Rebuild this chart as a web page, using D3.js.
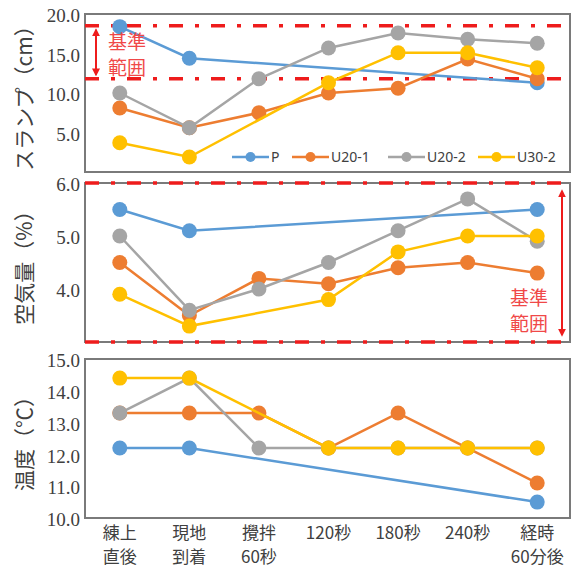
<!DOCTYPE html>
<html>
<head>
<meta charset="utf-8">
<script src="https://cdn.jsdelivr.net/npm/d3@7"></script>
<style>
  body { margin: 0; background: #fff; }
  svg { display: block; }
  .tick text { font-family: "Liberation Serif", serif; fill: #404040; }
  .jp { font-family: "Noto Sans CJK JP", sans-serif; }
</style>
</head>
<body>
<div id="chart"></div>
<script>
const categories = [['練上', '直後'], ['現地', '到着'], ['攪拌', '60秒'], ['120秒'], ['180秒'], ['240秒'], ['経時', '60分後']];
const seriesNames = ['P', 'U20-1', 'U20-2', 'U30-2'];
const seriesColors = ['#5b9bd5', '#ed7d31', '#a5a5a5', '#ffc000'];

const slumpP    = [18.4, 14.4, null, null, null, null, 11.3];
const slumpU201 = [8.1, 5.6, 7.5, 10.0, 10.6, 14.3, 11.8];
const slumpU202 = [10.0, 5.6, 11.8, 15.7, 17.6, 16.8, 16.3];
const slumpU302 = [3.7, 1.9, null, 11.3, 15.1, 15.1, 13.2];
const slumpTicks = [5, 10, 15, 20];
const slumpRange = [11.8, 18.5];

const airP    = [5.5, 5.1, null, null, null, null, 5.5];
const airU201 = [4.5, 3.5, 4.2, 4.1, 4.4, 4.5, 4.3];
const airU202 = [5.0, 3.6, 4.0, 4.5, 5.1, 5.7, 4.9];
const airU302 = [3.9, 3.3, null, 3.8, 4.7, 5.0, 5.0];
const airTicks = [4, 5, 6];
const airRange = [3, 6];

const tempP    = [12.2, 12.2, null, null, null, null, 10.5];
const tempU201 = [13.3, 13.3, 13.3, 12.2, 13.3, 12.2, 11.1];
const tempU202 = [13.3, 14.4, 12.2, 12.2, 12.2, 12.2, 12.2];
const tempU302 = [14.4, 14.4, null, 12.2, 12.2, 12.2, 12.2];
const tempTicks = [10, 11, 12, 13, 14, 15];

const W = 572, H = 567;
const left = 85, right = 570;

const svg = d3.select('#chart').append('svg')
    .attr('width', W)
    .attr('height', H);

const x = d3.scalePoint()
    .domain(d3.range(categories.length))
    .range([left, 572])
    .padding(0.5);

const panels = [
    { title: 'スランプ（cm）', top: 14, bottom: 172, domain: [0, 20], ticks: slumpTicks,
      data: [slumpP, slumpU201, slumpU202, slumpU302], band: slumpRange },
    { title: '空気量（%）', top: 183, bottom: 342, domain: [3, 6], ticks: airTicks,
      data: [airP, airU201, airU202, airU302], band: airRange },
    { title: '温度（℃）', top: 359, bottom: 518, domain: [10, 15], ticks: tempTicks,
      data: [tempP, tempU201, tempU202, tempU302] }
];

const red = '#ee1c1c';

panels.forEach((p, pi) => {
    const y = d3.scaleLinear().domain(p.domain).range([p.bottom, p.top]);
    const g = svg.append('g');

    // Frame
    g.append('rect')
        .attr('x', left).attr('y', p.top)
        .attr('width', right - left).attr('height', p.bottom - p.top)
        .attr('fill', 'none').attr('stroke', '#7a7a7a').attr('stroke-width', 2);

    // Y axis
    const axis = g.append('g')
        .attr('transform', `translate(${left},0)`)
        .call(d3.axisLeft(y).tickValues(p.ticks).tickSize(0).tickPadding(5).tickFormat(d3.format('.1f')));
    axis.select('.domain').remove();
    axis.selectAll('text').style('font-size', '19px').attr('dy', '0.4em');

    // Y title
    g.append('text')
        .attr('class', 'jp')
        .attr('transform', `translate(25,${(p.top + p.bottom) / 2}) rotate(-90)`)
        .attr('text-anchor', 'middle')
        .attr('dy', '0.35em')
        .style('font-size', '21px')
        .attr('fill', '#404040')
        .text(p.title);

    // Reference band (dash-dot lines)
    if (p.band) {
        p.band.forEach(v => {
            g.append('line')
                .attr('x1', left).attr('x2', 572)
                .attr('y1', y(v)).attr('y2', y(v))
                .attr('stroke', red).attr('stroke-width', 3.5)
                .attr('stroke-dasharray', '14,12,4,12');
        });
    }

    // Series lines and markers
    p.data.forEach((vals, si) => {
        const pts = vals.map((v, i) => ({ i, v })).filter(d => d.v !== null);
        const line = d3.line().x(d => x(d.i)).y(d => y(d.v));
        g.append('path')
            .datum(pts)
            .attr('d', line)
            .attr('fill', 'none')
            .attr('stroke', seriesColors[si])
            .attr('stroke-width', 2.5);
        g.selectAll(null)
            .data(pts)
            .enter().append('circle')
            .attr('cx', d => x(d.i))
            .attr('cy', d => y(d.v))
            .attr('r', 7.5)
            .attr('fill', seriesColors[si]);
    });

    p.y = y;
});

// Reference range annotation, slump panel
const ys = panels[0].y;
const ya = panels[1].y;
svg.append('defs').append('marker')
    .attr('id', 'ah')
    .attr('viewBox', '0 0 10 10')
    .attr('refX', 8).attr('refY', 5)
    .attr('markerWidth', 4).attr('markerHeight', 4)
    .attr('orient', 'auto-start-reverse')
    .append('path')
    .attr('d', 'M0,0L10,5L0,10Z')
    .attr('fill', red);

function rangeArrow(xPos, y1, y2) {
    svg.append('line')
        .attr('x1', xPos).attr('x2', xPos)
        .attr('y1', y1).attr('y2', y2)
        .attr('stroke', red).attr('stroke-width', 2)
        .attr('marker-start', 'url(#ah)')
        .attr('marker-end', 'url(#ah)');
}
function rangeLabel(xPos, yPos) {
    ['基準', '範囲'].forEach((t, i) => {
        svg.append('text')
            .attr('class', 'jp')
            .attr('x', xPos).attr('y', yPos + i * 26)
            .attr('dy', '0.35em')
            .style('font-size', '19px')
            .attr('fill', '#f04848')
            .text(t);
    });
}
rangeArrow(96, ys(18.0), ys(12.3));
rangeLabel(108, 42);
rangeArrow(562, ya(5.85), ya(3.13));
rangeLabel(510, 298);

// Legend
const legendX = [232, 292, 388, 478];
seriesNames.forEach((name, i) => {
    const lg = svg.append('g').attr('transform', `translate(${legendX[i]},157)`);
    lg.append('line')
        .attr('x1', 0).attr('x2', 37)
        .attr('stroke', seriesColors[i]).attr('stroke-width', 2.5);
    lg.append('circle')
        .attr('cx', 18.5).attr('r', 5)
        .attr('fill', seriesColors[i]);
    lg.append('text')
        .attr('x', 39).attr('dy', '0.35em')
        .style('font-family', '"Noto Sans", sans-serif')
        .style('font-size', '14px')
        .attr('fill', '#404040')
        .text(name);
});

// X category labels
categories.forEach((lines, i) => {
    lines.forEach((t, j) => {
        svg.append('text')
            .attr('class', 'jp')
            .attr('x', x(i)).attr('y', 533 + j * 24)
            .attr('dy', '0.35em')
            .attr('text-anchor', 'middle')
            .style('font-size', '17px')
            .attr('fill', '#404040')
            .text(t);
    });
});
</script>
</body>
</html>
